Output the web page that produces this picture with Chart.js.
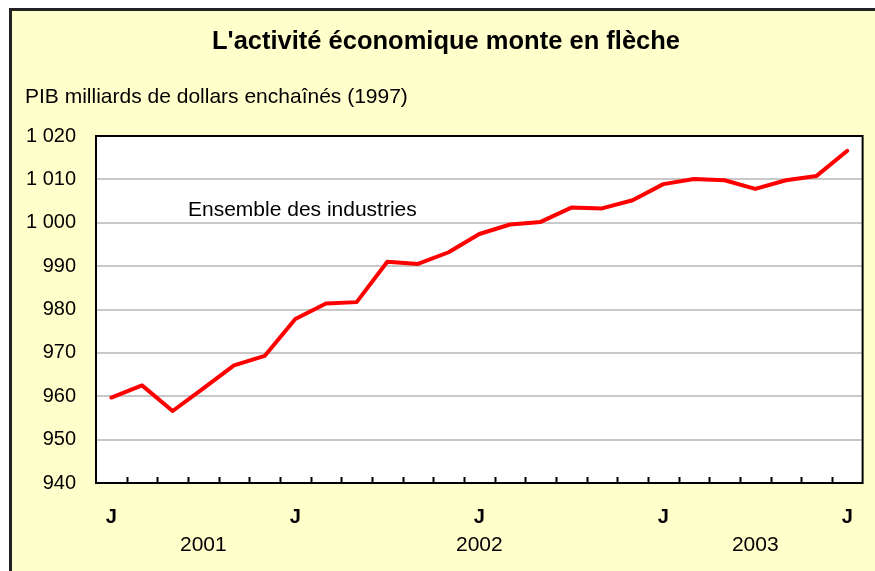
<!DOCTYPE html>
<html lang="fr">
<head>
<meta charset="utf-8">
<title>L'activité économique monte en flèche</title>
<script src="https://cdn.jsdelivr.net/npm/chart.js@4.4.1/dist/chart.umd.min.js"></script>
<style>
    html, body { margin: 0; padding: 0; background: #fff; }
    canvas { display: block; }
</style>
</head>
<body>
<canvas id="pib" width="875" height="571"></canvas>
<script>
// =====================================================================
// PIB — ensemble des industries, juillet 2001 à juillet 2003
// =====================================================================

const MONTHS = ["J", "", "", "", "", "", "J", "", "", "", "", "", "J",
                "", "", "", "", "", "J", "", "", "", "", "", "J"];
const YEARS = ["", "", "", "2001", "", "", "", "", "", "", "", "", "2002",
               "", "", "", "", "", "", "", "", "2003", "", "", ""];
const PIB = [959.7, 962.5, 956.6, 961.8, 967.1, 969.3, 977.8, 981.4, 981.7,
             991.0, 990.5, 993.2, 997.4, 999.6, 1000.2, 1003.5, 1003.3, 1005.2,
             1008.9, 1010.1, 1009.8, 1007.8, 1009.8, 1010.8, 1016.6];
const SERIES_LABEL = "Ensemble des industries";

const FONT = "'Liberation Sans', Arial, sans-serif";
const YELLOW = "#ffffcc";

// "1020" -> "1 020"
function frNumber(v) {
    return String(v).replace(/\B(?=(\d{3})+(?!\d))/g, " ");
}

const frame = {
    id: "frame",
    beforeDraw(chart) {
        const { ctx, width, height, chartArea: a } = chart;
        ctx.save();
        ctx.fillStyle = "#fff";
        ctx.fillRect(0, 0, width, height);
        ctx.fillStyle = YELLOW;
        ctx.fillRect(9, 8, width - 9, height - 8);
        ctx.strokeStyle = "#222";
        ctx.lineWidth = 3;
        ctx.beginPath();
        ctx.moveTo(10.5, height);
        ctx.lineTo(10.5, 9.5);
        ctx.lineTo(width, 9.5);
        ctx.stroke();
        ctx.fillStyle = "#fff";
        ctx.fillRect(a.left, a.top, a.right - a.left, a.bottom - a.top);
        ctx.restore();
    },
    afterDraw(chart) {
        const { ctx, chartArea: a } = chart;
        const x = chart.scales.x, y = chart.scales.y;
        ctx.save();
        // plot border
        ctx.strokeStyle = "#000";
        ctx.lineWidth = 2;
        ctx.strokeRect(a.left, a.top, a.right - a.left, a.bottom - a.top);
        // inward tick marks between months
        ctx.beginPath();
        for (let i = 1; i < MONTHS.length; i++) {
            const px = Math.round((x.getPixelForValue(i - 1) + x.getPixelForValue(i)) / 2) + 0.5;
            ctx.moveTo(px, a.bottom);
            ctx.lineTo(px, a.bottom - 6);
        }
        ctx.lineWidth = 2;
        ctx.stroke();
        // series label
        ctx.fillStyle = "#000";
        ctx.font = "21px " + FONT;
        ctx.textBaseline = "middle";
        ctx.textAlign = "left";
        ctx.fillText(SERIES_LABEL, x.getPixelForValue(2.5), y.getPixelForValue(1003));
        ctx.restore();
    }
};

new Chart(document.getElementById("pib"), {
    type: "line",
    data: {
        labels: MONTHS,
        datasets: [{
            label: SERIES_LABEL,
            data: PIB,
            borderColor: "#ff0000",
            borderWidth: 4,
            pointRadius: 0,
            tension: 0,
            borderJoinStyle: "round",
            borderCapStyle: "round"
        }]
    },
    options: {
        responsive: false,
        animation: false,
        layout: { padding: { left: 25, right: 8, top: 27, bottom: 10 } },
        plugins: {
            legend: { display: false },
            tooltip: { enabled: false },
            title: {
                display: true,
                text: "L'activité économique monte en flèche",
                color: "#000",
                font: { family: FONT, size: 25.5, weight: "bold" },
                padding: { top: 0, bottom: 26.8 }
            },
            subtitle: {
                display: true,
                text: "PIB milliards de dollars enchaînés (1997)",
                align: "start",
                color: "#000",
                font: { family: FONT, size: 21 },
                padding: { top: 0, bottom: 26.4 }
            }
        },
        scales: {
            x: {
                weight: 0,
                offset: true,
                grid: { display: false, drawTicks: false },
                border: { display: false },
                ticks: {
                    autoSkip: false, maxRotation: 0, padding: 22,
                    color: "#000", font: { family: FONT, size: 20, weight: "bold" }
                },
                afterFit(s) { s.height = 48; }
            },
            x2: {
                type: "category",
                position: "bottom",
                weight: 1,
                labels: YEARS,
                offset: true,
                grid: { display: false, drawTicks: false },
                border: { display: false },
                ticks: {
                    autoSkip: false, maxRotation: 0, padding: 2,
                    color: "#000", font: { family: FONT, size: 21 }
                },
                afterFit(s) { s.height = 30; }
            },
            y: {
                min: 940,
                max: 1020,
                grid: { color: "#c8c8c8", lineWidth: 2, drawTicks: false },
                border: { display: false },
                ticks: {
                    stepSize: 10, padding: 20, color: "#000",
                    font: { family: FONT, size: 20 },
                    callback: (v) => frNumber(v)
                },
                afterFit(s) { s.width = 71; }
            }
        }
    },
    plugins: [frame]
});
</script>
</body>
</html>
